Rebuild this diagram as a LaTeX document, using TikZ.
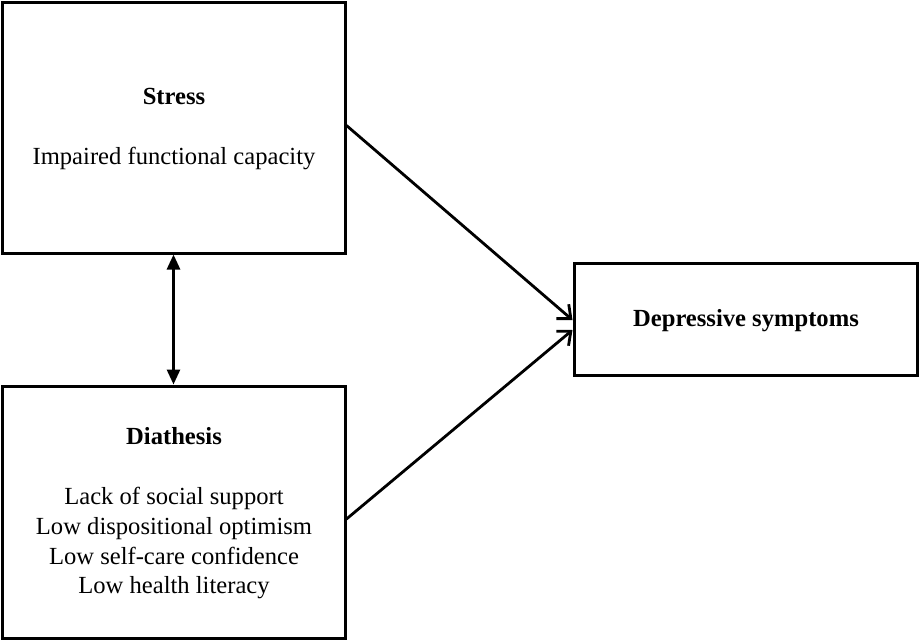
\documentclass[tikz,border=0pt]{standalone}
\usepackage{fontspec}
\setmainfont{Liberation Serif}
\usetikzlibrary{arrows.meta}
\begin{document}
\begin{tikzpicture}[x=1pt,y=-1pt,
  box/.style={draw, line width=3pt, rectangle, inner sep=0pt},
  txt/.style={anchor=base, inner sep=0pt, font=\fontsize{24.6}{29.7}\selectfont},
  btxt/.style={txt, font=\fontsize{24.6}{29.7}\selectfont\bfseries},
  conn/.style={line width=2.8pt, -{Straight Barb[length=11pt,width=19pt,line width=2.8pt]}},
  dbl/.style={line width=2.8pt, {Triangle[length=15pt,width=13pt]}-{Triangle[length=15pt,width=13pt]}}]
\useasboundingbox (0,0) rectangle (919,641);
\node[box, minimum width=343pt, minimum height=251pt] (stress) at (173.5,127.5) {};
\node[box, minimum width=343pt, minimum height=252pt] (dia) at (173.5,512) {};
\node[box, minimum width=343pt, minimum height=112pt] (dep) at (745.5,319) {};
\node[btxt] (stresst) at (174,104) {Stress};
\node[txt] (stressi) at (174,164) {Impaired functional capacity};
\node[btxt] (diat) at (174,444) {Diathesis};
\node[txt] (dia1) at (174,504) {Lack of social support};
\node[txt] (dia2) at (174,534) {Low dispositional optimism};
\node[txt] (dia3) at (174,564) {Low self-care confidence};
\node[txt] (dia4) at (174,593) {Low health literacy};
\node[btxt] (dept) at (746,326) {Depressive symptoms};
\draw[conn] ([yshift=2pt]stress.east) -- ([yshift=-1pt]dep.west);
\draw[conn] ([yshift=-7pt]dia.east) -- ([yshift=-11pt]dep.west);
\draw[dbl] (stress.south) -- (dia.north);
\end{tikzpicture}
\end{document}
